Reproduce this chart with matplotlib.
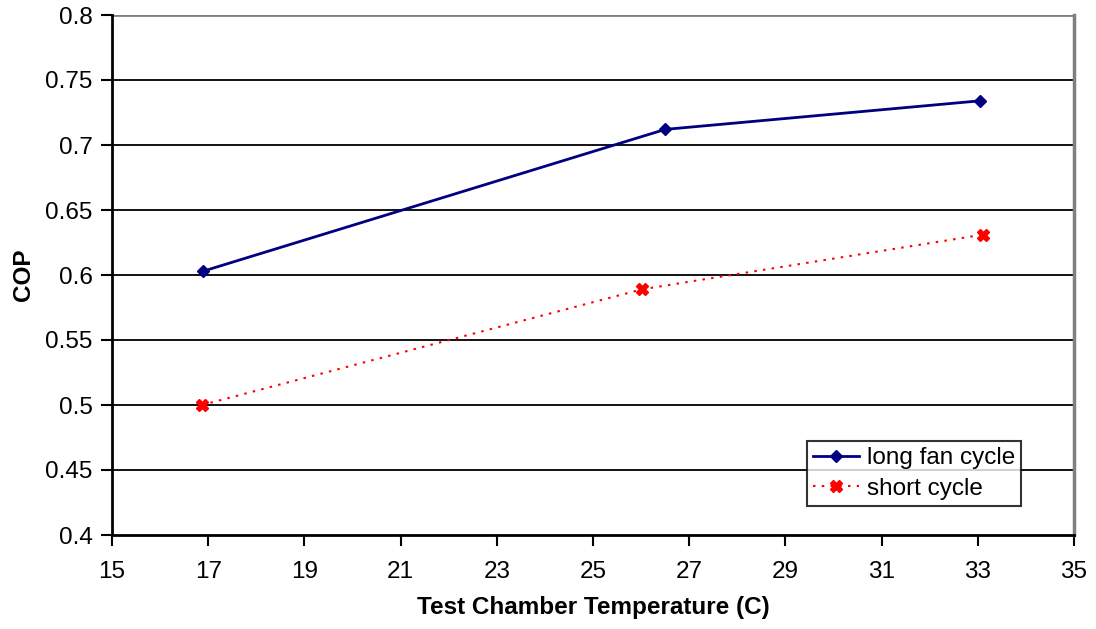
import numpy as np
import matplotlib.pyplot as plt

plt.rcParams['font.family'] = ['Liberation Sans', 'DejaVu Sans']

# datos
temp_long = [16.9, 26.5, 33.05]
cop_long = [0.603, 0.712, 0.734]
temp_short = [16.87, 26.02, 33.1]
cop_short = [0.500, 0.589, 0.631]

xticks = np.arange(15, 36, 2)
yticks = np.arange(0.40, 0.801, 0.05)

fig = plt.figure(figsize=(10.96, 6.29), dpi=100)
ax = fig.add_axes([112/1096, 1-535/629, (1074-112)/1096, (535-15)/629])

# rejilla horizontal
for yv in yticks[1:-1]:
    ax.axhline(yv, color='black', lw=1.3, zorder=1)
ax.axhline(0.8, color='#808080', lw=2, zorder=1)

ax.plot(temp_long, cop_long, color='#000080', lw=2, marker='D', ms=6,
        label='long fan cycle', zorder=3)
ax.plot(temp_short, cop_short, color='red', lw=1.5, ls=(0, (1.2, 3)),
        marker='X', ms=9, label='short cycle', zorder=3)

ax.set_xlim(15, 35)
ax.set_ylim(0.4, 0.8)
ax.set_xticks(xticks)
ax.set_yticks(yticks)
ax.set_yticklabels(['0.4', '0.45', '0.5', '0.55', '0.6', '0.65', '0.7', '0.75', '0.8'])
ax.tick_params(direction='out', length=8, width=1.5, labelsize=17.5)
ax.tick_params(axis='x', pad=11)
ax.tick_params(axis='y', pad=6)

ax.spines['top'].set_visible(False)
ax.spines['right'].set_color('#808080')
ax.spines['right'].set_linewidth(2.5)
ax.spines['left'].set_linewidth(2)
ax.spines['bottom'].set_linewidth(2)

ax.set_xlabel('Test Chamber Temperature (C)', fontsize=17.5, fontweight='bold', labelpad=9)
ax.set_ylabel('COP', fontsize=17.5, fontweight='bold', labelpad=7)

leg = ax.legend(loc='upper left', bbox_to_anchor=(807/1096, 1-441/629),
                bbox_transform=fig.transFigure, fontsize=17.5, frameon=True,
                fancybox=False, edgecolor='black', borderpad=0.25,
                handlelength=1.9, handletextpad=0.3, labelspacing=0.35,
                borderaxespad=0)
leg.get_frame().set_linewidth(1.5)

fig.savefig('out.png', dpi=100)
